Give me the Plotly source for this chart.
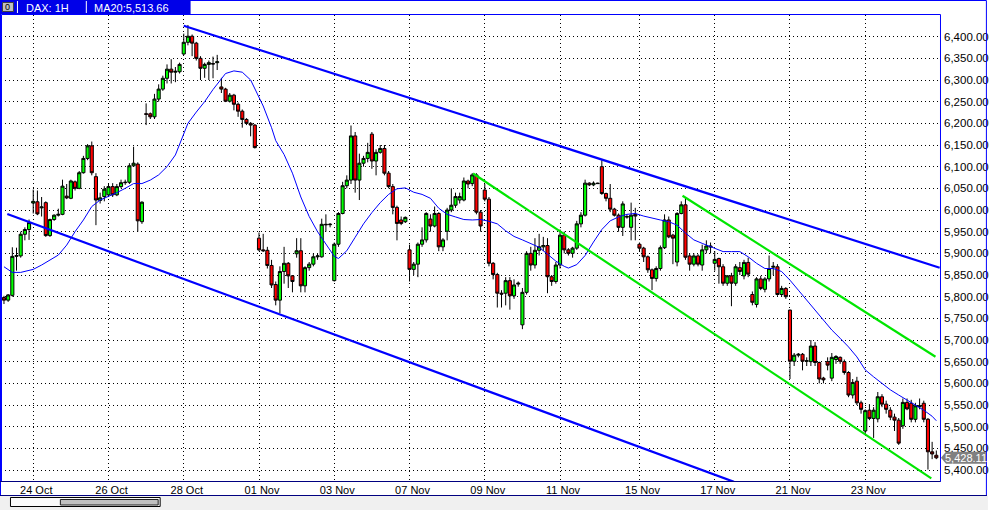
import plotly.graph_objects as go

# ---------------- data ----------------
# trading sessions (label, number of hourly bars shown)
session_days = ["21 Oct", "24 Oct", "25 Oct", "26 Oct", "27 Oct", "28 Oct", "31 Oct",
                "01 Nov", "02 Nov", "03 Nov", "04 Nov", "07 Nov", "08 Nov", "09 Nov",
                "10 Nov", "11 Nov", "14 Nov", "15 Nov", "16 Nov", "17 Nov", "18 Nov",
                "21 Nov", "22 Nov", "23 Nov", "24 Nov"]
session_bars = [7, 9, 9, 9, 9, 9, 9, 9, 9, 9, 9, 9, 9, 9, 9, 10, 9, 9, 9, 9, 9, 9, 9, 9, 9]
labelled_days = ["24 Oct", "26 Oct", "28 Oct", "01 Nov", "03 Nov", "07 Nov", "09 Nov",
                 "11 Nov", "15 Nov", "17 Nov", "21 Nov", "23 Nov"]

open_ = [5798, 5792, 5803, 5893, 5894, 5944, 5955, 6016, 6019, 6005,
         6017, 5941, 5978, 5988, 5990, 6032, 6027, 6065, 6050, 6086,
         6119, 6148, 6077, 6022, 6031, 6035, 6054, 6035, 6054, 6063,
         6064, 6102, 6106, 5973, 6222, 6222, 6215, 6256, 6279, 6304,
         6325, 6318, 6319, 6360, 6387, 6401, 6385, 6350, 6327, 6336,
         6338, 6340, 6284, 6279, 6251, 6265, 6244, 6228, 6209, 6200,
         6196, 5935, 5908, 5907, 5872, 5828, 5792, 5858, 5877, 5848,
         5899, 5906, 5825, 5867, 5875, 5892, 5892, 5967, 5966, 5837,
         5921, 5992, 6056, 6069, 6171, 6069, 6108, 6119, 6175, 6113,
         6133, 6142, 6085, 6054, 6006, 5977, 5973, 5908, 5863, 5875,
         5921, 5931, 5979, 5963, 5992, 5915, 5951, 6000, 6011, 6023,
         6023, 6067, 6061, 6081, 5995, 6046, 6025, 5877, 5851, 5808,
         5808, 5837, 5802, 5829, 5735, 5810, 5900, 5873, 5907, 5915,
         5918, 5846, 5835, 5873, 5942, 5908, 5900, 5912, 5968, 5988,
         6062, 6058, 6062, 6100, 6038, 6027, 6002, 5988, 5960, 5985,
         5960, 5990, 5921, 5912, 5892, 5862, 5842, 5865, 5913, 5977,
         5942, 5880, 5992, 6012, 5894, 5875, 5894, 5873, 5908, 5917,
         5877, 5888, 5869, 5831, 5848, 5831, 5867, 5848, 5879, 5805,
         5782, 5841, 5817, 5841, 5868, 5869, 5805, 5819, 5769, 5651,
         5665, 5667, 5651, 5650, 5686, 5648, 5612, 5650, 5612, 5655,
         5660, 5650, 5625, 5573, 5605, 5555, 5490, 5538, 5519, 5518,
         5569, 5552, 5538, 5522, 5515, 5502, 5556, 5554, 5517, 5546,
         5554, 5517, 5442, 5434]

high = [5802, 5806, 5914, 5913, 5950, 5960, 5978, 6047, 6045, 6030,
        6020, 5980, 5990, 6003, 6070, 6060, 6070, 6068, 6090, 6125,
        6152, 6158, 6085, 6040, 6055, 6062, 6062, 6060, 6070, 6070,
        6108, 6146, 6110, 6020, 6246, 6225, 6268, 6290, 6310, 6336,
        6348, 6330, 6340, 6407, 6427, 6405, 6388, 6355, 6340, 6345,
        6354, 6358, 6305, 6282, 6270, 6268, 6248, 6232, 6212, 6203,
        6198, 5948, 5945, 5915, 5885, 5835, 5870, 5915, 5880, 5850,
        5935, 5935, 5870, 5880, 5900, 5900, 5980, 5990, 5970, 5925,
        5995, 6065, 6080, 6195, 6180, 6130, 6125, 6155, 6180, 6140,
        6150, 6150, 6090, 6060, 6010, 5985, 5985, 5920, 5880, 5925,
        5960, 5995, 5990, 6008, 5995, 5935, 6005, 6050, 6040, 6040,
        6075, 6070, 6085, 6085, 6000, 6060, 6030, 5880, 5855, 5815,
        5845, 5845, 5840, 5835, 5820, 5905, 5915, 5935, 5945, 5938,
        5935, 5850, 5880, 5955, 5950, 5912, 5915, 5975, 5995, 6070,
        6064, 6066, 6063, 6115, 6040, 6060, 6005, 5992, 6020, 5990,
        6017, 6005, 5925, 5915, 5895, 5865, 5870, 5918, 5990, 5985,
        5945, 5995, 6020, 6030, 5900, 5900, 5898, 5920, 5930, 5925,
        5905, 5890, 5875, 5850, 5855, 5875, 5880, 5885, 5890, 5812,
        5845, 5848, 5845, 5895, 5880, 5875, 5825, 5822, 5770, 5670,
        5670, 5670, 5660, 5700, 5695, 5650, 5615, 5660, 5670, 5665,
        5662, 5655, 5628, 5610, 5615, 5560, 5540, 5552, 5545, 5580,
        5575, 5560, 5545, 5530, 5520, 5565, 5565, 5562, 5555, 5565,
        5560, 5520, 5465, 5445]

low = [5783, 5788, 5800, 5860, 5890, 5930, 5931, 5992, 5988, 5985,
       5938, 5938, 5975, 5985, 5988, 6025, 6025, 6045, 6048, 6084,
       6115, 6080, 5965, 6015, 6020, 6030, 6030, 6032, 6050, 6058,
       6060, 6100, 5950, 5968, 6196, 6210, 6210, 6250, 6275, 6292,
       6292, 6295, 6315, 6357, 6380, 6355, 6345, 6300, 6305, 6300,
       6304, 6323, 6270, 6249, 6248, 6230, 6215, 6190, 6196, 6170,
       6142, 5905, 5903, 5865, 5820, 5780, 5762, 5830, 5820, 5810,
       5890, 5810, 5810, 5860, 5870, 5885, 5890, 5950, 5960, 5835,
       5915, 5990, 6050, 6060, 6040, 6023, 6100, 6110, 6095, 6080,
       6130, 6080, 6050, 5990, 5930, 5965, 5970, 5835, 5850, 5845,
       5915, 5925, 5950, 5960, 5905, 5905, 5930, 5995, 6005, 6015,
       6020, 6050, 6055, 5990, 5950, 6020, 5870, 5840, 5775, 5775,
       5780, 5770, 5795, 5823, 5725, 5805, 5860, 5865, 5895, 5905,
       5808, 5825, 5830, 5865, 5900, 5895, 5890, 5908, 5960, 5985,
       6055, 6055, 6060, 6035, 6020, 5995, 5985, 5950, 5940, 5980,
       5930, 5930, 5905, 5880, 5855, 5815, 5835, 5860, 5910, 5935,
       5875, 5870, 5990, 5885, 5860, 5870, 5870, 5860, 5900, 5900,
       5860, 5830, 5825, 5825, 5778, 5825, 5850, 5840, 5845, 5780,
       5775, 5815, 5810, 5835, 5850, 5802, 5800, 5795, 5610, 5640,
       5660, 5630, 5640, 5640, 5640, 5600, 5600, 5630, 5605, 5645,
       5645, 5620, 5568, 5565, 5550, 5530, 5481, 5515, 5474, 5510,
       5545, 5530, 5515, 5490, 5458, 5495, 5538, 5510, 5510, 5540,
       5510, 5401, 5425, 5425]

close = [5792, 5804, 5893, 5895, 5944, 5955, 5971, 6020, 5991, 6007,
         5941, 5978, 5988, 5990, 6055, 6028, 6067, 6050, 6086, 6119,
         6148, 6086, 6023, 6028, 6048, 6054, 6035, 6054, 6063, 6064,
         6102, 6108, 5975, 6018, 6221, 6215, 6256, 6279, 6304, 6325,
         6318, 6320, 6336, 6387, 6401, 6385, 6350, 6327, 6336, 6340,
         6337, 6342, 6279, 6251, 6265, 6244, 6228, 6209, 6200, 6196,
         6144, 5908, 5906, 5872, 5827, 5792, 5858, 5877, 5848, 5835,
         5906, 5825, 5867, 5875, 5892, 5894, 5967, 5966, 5967, 5921,
         5992, 6056, 6069, 6171, 6069, 6108, 6119, 6133, 6113, 6133,
         6142, 6085, 6054, 6006, 5969, 5969, 5983, 5863, 5875, 5921,
         5931, 5992, 5963, 5992, 5915, 5931, 6000, 6011, 6031, 6031,
         6067, 6060, 6081, 5995, 5963, 6025, 5877, 5851, 5808, 5806,
         5837, 5802, 5827, 5831, 5810, 5900, 5873, 5907, 5915, 5918,
         5846, 5835, 5873, 5942, 5908, 5900, 5912, 5968, 5988, 6062,
         6058, 6062, 6061, 6038, 6027, 6002, 5988, 5960, 6014, 5984,
         5988, 5986, 5912, 5892, 5862, 5842, 5865, 5913, 5977, 5938,
         5935, 5992, 6012, 5891, 5875, 5894, 5875, 5908, 5917, 5915,
         5886, 5869, 5831, 5848, 5831, 5869, 5858, 5879, 5852, 5787,
         5841, 5819, 5841, 5865, 5870, 5805, 5819, 5800, 5651, 5665,
         5667, 5651, 5652, 5686, 5648, 5610, 5608, 5642, 5660, 5662,
         5651, 5625, 5573, 5602, 5555, 5540, 5537, 5519, 5538, 5569,
         5552, 5540, 5522, 5515, 5462, 5556, 5541, 5517, 5548, 5548,
         5517, 5442, 5437, 5428.11]

# MA20 at these bar numbers
ma_bar = [0, 2, 4, 7, 9, 11, 13, 15, 17, 19, 21, 23, 25, 27, 29, 31, 33, 35, 37, 39,
          41, 43, 44, 46, 48, 50, 52, 53, 55, 57, 59, 61, 62, 64, 65, 67, 69, 71, 73, 75,
          77, 79, 80, 82, 84, 86, 88, 90, 92, 94, 96, 98, 100, 102, 104, 106, 108, 110, 112, 114,
          116, 118, 120, 122, 124, 126, 128, 130, 132, 134, 135, 137, 139, 141, 143, 145, 147, 149, 151, 153,
          155, 157, 159, 161, 163, 165, 167, 169, 171, 172, 174, 176, 178, 180, 182, 184, 186, 188, 190, 192,
          194, 196, 198, 200, 202, 204, 206, 208, 210, 212, 214, 216, 218, 220, 222, 223]
ma20 = [5869, 5856, 5856, 5863, 5873, 5884, 5896, 5919, 5950, 5977, 6008, 6023, 6031, 6040, 6050, 6061, 6061, 6069, 6081, 6100,
        6127, 6175, 6200, 6226, 6250, 6278, 6304, 6315, 6321, 6318, 6300, 6262, 6240, 6190, 6160, 6128, 6085, 6030, 5985, 5950,
        5920, 5893, 5888, 5906, 5937, 5968, 5994, 6017, 6036, 6049, 6051, 6041, 6036, 6027, 6004, 5990, 5984, 5978, 5977, 5978,
        5974, 5968, 5952, 5939, 5931, 5922, 5914, 5898, 5882, 5870, 5866, 5874, 5895, 5926, 5955, 5975, 5984, 5990, 5992, 5986,
        5981, 5977, 5973, 5965, 5947, 5931, 5923, 5915, 5908, 5904, 5904, 5904, 5892, 5877, 5865, 5865, 5858, 5838, 5815, 5792,
        5769, 5746, 5723, 5704, 5684, 5661, 5631, 5615, 5600, 5585, 5573, 5562, 5550, 5538, 5524, 5513.66]

# hand-drawn trend lines: (bar, price) end points
upper_blue = ([43.0, 223.8], [6425.3, 5866.8])
lower_blue = ([0.8, 174.6], [5990.8, 5372.7])
green_low = ([112.2, 221.8], [6084.2, 5380.8])
green_high = ([162.3, 222.8], [6033.0, 5661.4])

price_ticks = list(range(5400, 6401, 50))

# ---------------- derived ----------------
bars = list(range(len(close)))
starts = {}
pos = 0
for d, n in zip(session_days, session_bars):
    starts[d] = pos
    pos += n
tick_bars = [starts[d] for d in labelled_days]

X_RANGE = [-0.71, 223.88]
Y_RANGE = [5372.3, 6450.0]
W, H = 990, 510
ML, MR, MT, MB = 1, 48, 15, 28
PW, PH = W - ML - MR, H - MT - MB


def px(x):
    return (x - ML) / PW


def py(y):
    return (H - MB - y) / PH


BLUE = "#0000ff"
NAVY = "#000080"
FONT = "Liberation Sans, Arial, sans-serif"

fig = go.Figure()
fig.add_trace(go.Candlestick(
    x=bars, open=open_, high=high, low=low, close=close,
    increasing=dict(line=dict(color="black", width=1), fillcolor="#00ff00"),
    decreasing=dict(line=dict(color="black", width=1), fillcolor="#ff0000"),
    whiskerwidth=0, showlegend=False, hoverinfo="skip"))
fig.add_trace(go.Scatter(x=ma_bar, y=ma20, mode="lines",
                         line=dict(color=BLUE, width=1), hoverinfo="skip", showlegend=False))
for (xs, ys), col in [(upper_blue, BLUE), (lower_blue, BLUE),
                      (green_low, "#00e600"), (green_high, "#00e600")]:
    fig.add_trace(go.Scatter(x=xs, y=ys, mode="lines", line=dict(color=col, width=2.2),
                             hoverinfo="skip", showlegend=False))

fig.update_layout(
    width=W, height=H, margin=dict(l=ML, r=MR, t=MT, b=MB, pad=0),
    paper_bgcolor="white", plot_bgcolor="white", showlegend=False,
    boxgap=0.26, boxgroupgap=0,
    font=dict(family=FONT, size=11, color="black"),
)
fig.update_xaxes(range=X_RANGE, tickmode="array", tickvals=tick_bars, ticktext=labelled_days,
                 showgrid=True, gridcolor="black", griddash="1px,3px", gridwidth=1,
                 zeroline=False, showline=False, ticks="", rangeslider=dict(visible=False),
                 ticklabelshift=3, ticklabelstandoff=0,
                 tickfont=dict(family=FONT, size=11, color="black"), fixedrange=True)
fig.update_yaxes(range=Y_RANGE, side="right", tickmode="array", tickvals=price_ticks,
                 ticktext=[f"{v:,.2f}" for v in price_ticks],
                 showgrid=True, gridcolor="black", griddash="1px,3px", gridwidth=1,
                 zeroline=False, showline=False, ticks="", ticklabelstandoff=3,
                 tickfont=dict(family=FONT, size=11.5, color="black"), fixedrange=True)

shapes = []
# bottom strip with scrollbar
shapes.append(dict(type="rect", xref="paper", yref="paper", x0=px(0), x1=px(990),
                   y0=py(495.5), y1=py(510), fillcolor="#f0f0f0", line=dict(width=0), layer="above"))
shapes.append(dict(type="rect", xref="paper", yref="paper", x0=px(10.5), x1=px(160.5),
                   y0=py(506.5), y1=py(497.5), fillcolor="#fafafa", line=dict(color="black", width=1), layer="above"))
shapes.append(dict(type="rect", xref="paper", yref="paper", x0=px(60.5), x1=px(158.5),
                   y0=py(505), y1=py(499.5), fillcolor="#c0c0c0", line=dict(color="#202020", width=1), layer="above"))
# outer frame
shapes.append(dict(type="rect", xref="paper", yref="paper", x0=px(0.5), x1=px(988.5),
                   y0=py(495.5), y1=py(0.5), line=dict(color=BLUE, width=1), layer="above"))
shapes.append(dict(type="line", xref="paper", yref="paper", x0=px(0), x1=px(989),
                   y0=py(495.5), y1=py(495.5), line=dict(color=NAVY, width=1), layer="above"))
# plot frame
shapes.append(dict(type="rect", xref="paper", yref="paper", x0=px(1.5), x1=px(942.5),
                   y0=py(481.5), y1=py(14.5), line=dict(color=BLUE, width=1), layer="above"))
shapes.append(dict(type="line", xref="paper", yref="paper", x0=px(0), x1=px(942.5),
                   y0=py(481.5), y1=py(481.5), line=dict(color=NAVY, width=1), layer="above"))
# title bar
shapes.append(dict(type="rect", xref="paper", yref="paper", x0=px(0), x1=px(191),
                   y0=py(14), y1=py(0), fillcolor="#0000e8", line=dict(width=0), layer="above"))
shapes.append(dict(type="rect", xref="paper", yref="paper", x0=px(2.5), x1=px(13.5),
                   y0=py(11.5), y1=py(2.5), fillcolor="#c0c0c0", line=dict(color="#404040", width=1), layer="above"))
for sx in (17.5, 86.5):
    shapes.append(dict(type="line", xref="paper", yref="paper", x0=px(sx), x1=px(sx),
                       y0=py(13), y1=py(1), line=dict(color="white", width=1), layer="above"))
# last price tag
last = close[-1]
ty = H - MB - (last - Y_RANGE[0]) / (Y_RANGE[1] - Y_RANGE[0]) * PH
pts = [(943, ty), (948, ty - 6), (988, ty - 6), (988, ty + 6), (948, ty + 6)]
path = "M " + " L ".join(f"{px(a):.5f},{py(b):.5f}" for a, b in pts) + " Z"
shapes.append(dict(type="path", xref="paper", yref="paper", path=path,
                   fillcolor="#808080", line=dict(width=0), layer="above"))
fig.update_layout(shapes=shapes)

ann = [
    dict(text="0", x=px(8), y=py(7), xref="paper", yref="paper", showarrow=False,
         xanchor="center", yanchor="middle", font=dict(family=FONT, size=9, color="black")),
    dict(text="DAX: 1H", x=px(24), y=py(7.5), xref="paper", yref="paper", showarrow=False,
         xanchor="left", yanchor="middle", font=dict(family=FONT, size=11, color="white")),
    dict(text=f"MA20:{ma20[-1]:,.2f}", x=px(92), y=py(7.5), xref="paper", yref="paper", showarrow=False,
         xanchor="left", yanchor="middle", font=dict(family=FONT, size=11, color="white")),
    dict(text=f"{last:,.2f}", x=px(968), y=py(ty), xref="paper", yref="paper", showarrow=False,
         xanchor="center", yanchor="middle", font=dict(family=FONT, size=11, color="white")),
]
fig.update_layout(annotations=ann)

fig.write_html("out.html", config={"displayModeBar": False},
               post_script="document.body.style.margin='0';document.body.style.overflow='hidden';")
